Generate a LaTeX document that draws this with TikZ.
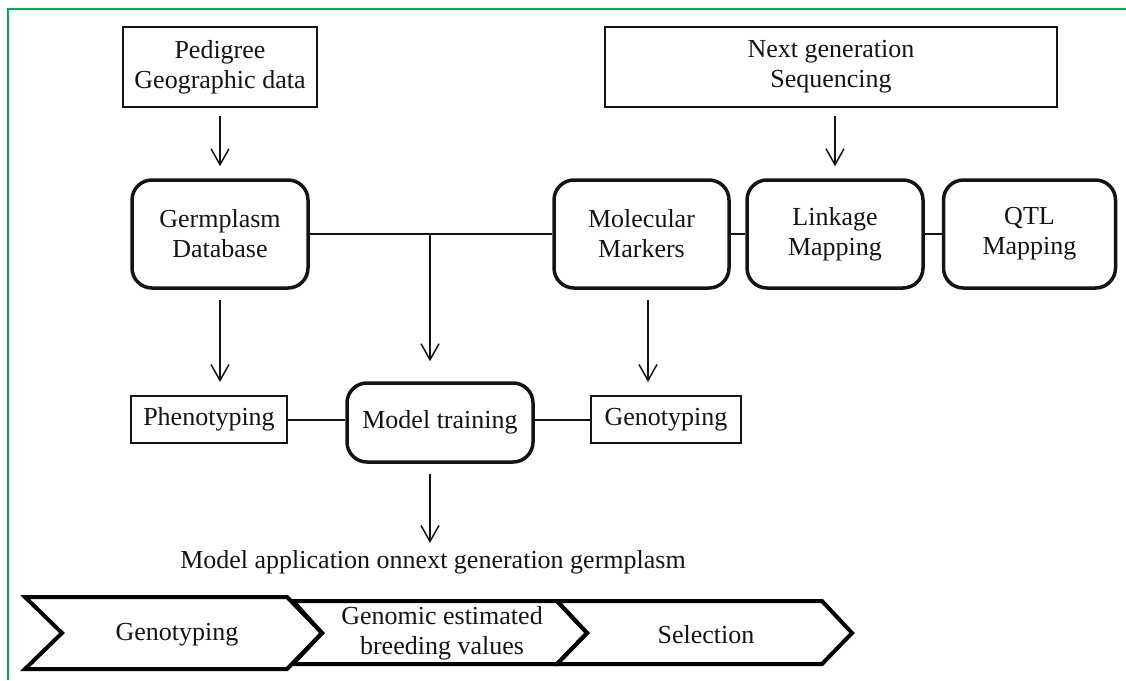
\documentclass[tikz,border=0pt]{standalone}
\usepackage{fontspec}
\setmainfont{Liberation Serif}
\usetikzlibrary{arrows.meta,calc}
\definecolor{frame}{RGB}{0,176,80}
\definecolor{ink}{RGB}{20,20,20}
\begin{document}
\begin{tikzpicture}[x=1pt,y=-1pt,
 every node/.style={font=\fontsize{26}{30}\selectfont, text=ink, align=center, inner sep=0pt},
 sqbox/.style={draw=ink, line width=2pt, rectangle},
 rbox/.style={draw=ink, line width=3.5pt, rounded corners=20pt, rectangle},
 joinline/.style={draw=ink, line width=2pt},
 arr/.style={draw=ink, line width=1.5pt, -{Straight Barb[length=16pt,width=18pt]}},
 chevron/.style={draw=black, line width=4pt, line join=miter},
 ]
\useasboundingbox (0,0) rectangle (1126,680);
\draw[frame, line width=2pt] (8,680) -- (8,9) -- (1126,9);

\node[sqbox, minimum width=194, minimum height=80] (ped) at (220,67) {Pedigree\\Geographic data};
\node[sqbox, minimum width=452, minimum height=80] (ngs) at (831,67) {Next generation\\Sequencing};
\node[rbox, minimum width=176, minimum height=108] (germ) at (220,234) {Germplasm\\Database};
\node[rbox, minimum width=175, minimum height=108] (mol) at (641.5,234) {Molecular\\Markers};
\node[rbox, minimum width=176, minimum height=108] (lnk) at (835,234) {Linkage\\Mapping};
\node[rbox, minimum width=172, minimum height=108] (qtl) at (1029.5,234) {QTL\\Mapping};
\node[sqbox, minimum width=156, minimum height=47] (pheno) at (209,419.5) {Phenotyping};
\node[rbox, minimum width=186, minimum height=79] (model) at (440,422.5) {Model training};
\node[sqbox, minimum width=150, minimum height=47] (geno) at (666,419.5) {Genotyping};
\node (app) at (433,562) {Model application onnext generation germplasm};

\coordinate (j) at (430,234);
\coordinate (apptop) at (430,543);

\draw[arr, shorten <=8pt, shorten >=12pt] (ped) -- (germ);
\draw[arr, shorten <=8pt, shorten >=12pt] (lnk.north |- ngs.south) -- (lnk.north);
\draw[joinline] (germ) -- (mol);
\draw[joinline] (mol) -- (lnk);
\draw[joinline] (lnk) -- (qtl);
\draw[arr, shorten >=20pt] (j) -- (j |- model.north);
\draw[arr, shorten <=10pt, shorten >=13pt] (germ.south) -- (germ.south |- pheno.north);
\draw[arr, shorten <=10pt, shorten >=13pt] ([xshift=6.5pt]mol.south) -- ([xshift=6.5pt]mol.south |- geno.north);
\draw[joinline] (pheno.east) -- (pheno.east -| model.west);
\draw[joinline] (geno.west) -- (geno.west -| model.east);
\draw[arr, shorten <=10pt] (j |- model.south) -- (apptop);

\draw[chevron] (25,597) -- (287,597) -- (322,633) -- (287,669) -- (25,669) -- (62,633) -- cycle;
\draw[chevron] (293,601) -- (557,601) -- (587,633) -- (557,664) -- (293,664) -- (322,633) -- cycle;
\draw[chevron] (557,601) -- (822,601) -- (852,633) -- (822,664) -- (557,664) -- (587,633) -- cycle;

\node (c1) at (177,635) {Genotyping};
\node (c2) at (442,633) {Genomic estimated\\breeding values};
\node (c3) at (706,635) {Selection};
\end{tikzpicture}
\end{document}
